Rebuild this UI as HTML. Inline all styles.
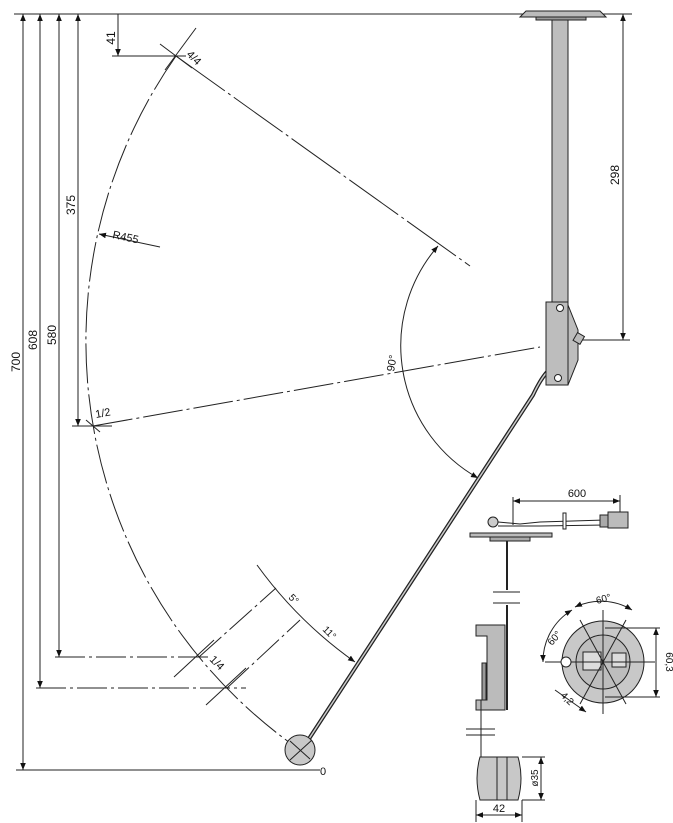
<!DOCTYPE html>
<html><head><meta charset="utf-8"><style>
html,body{margin:0;padding:0;background:#fff;}
svg{display:block;}
text{font-family:"Liberation Sans",sans-serif;fill:#111;}
</style></head><body>
<svg width="673" height="823" viewBox="0 0 673 823" xmlns="http://www.w3.org/2000/svg">
<defs>
<marker id="a" viewBox="0 0 10 10" refX="10" refY="5" markerWidth="7" markerHeight="7" orient="auto-start-reverse"><path d="M0,1 L10,5 L0,9 z" fill="#111"/></marker>
</defs>
<g stroke="#222" stroke-width="1" fill="none">
<line x1="14" y1="14" x2="632" y2="14"/>
<line x1="23" y1="14" x2="23" y2="770" marker-start="url(#a)" marker-end="url(#a)"/>
<line x1="40" y1="14" x2="40" y2="688" marker-start="url(#a)" marker-end="url(#a)"/>
<line x1="59" y1="14" x2="59" y2="657" marker-start="url(#a)" marker-end="url(#a)"/>
<line x1="78" y1="14" x2="78" y2="426" marker-start="url(#a)" marker-end="url(#a)"/>
<line x1="118" y1="14" x2="118" y2="56" marker-end="url(#a)"/>
<line x1="623" y1="14" x2="623" y2="340" marker-start="url(#a)" marker-end="url(#a)"/>
<line x1="16" y1="770" x2="320" y2="770"/>
<line x1="36" y1="688" x2="246" y2="688" stroke-dasharray="30 4 3 4"/>
<line x1="55" y1="657" x2="212" y2="657" stroke-dasharray="30 4 3 4"/>
<line x1="72" y1="426" x2="112" y2="426"/>
<line x1="112" y1="56" x2="186" y2="56"/>
<line x1="575" y1="340" x2="630" y2="340"/>
<path d="M176,56 A497,497 0 0 0 300,750" stroke-dasharray="40 4 3 4"/>
<line x1="176" y1="56" x2="470" y2="266" stroke-dasharray="60 4 3 4"/>
<line x1="93" y1="426" x2="540" y2="347" stroke-dasharray="40 4 3 4"/>
<line x1="199" y1="657" x2="276" y2="588" stroke-dasharray="30 4 3 4"/>
<line x1="227" y1="688" x2="300" y2="620" stroke-dasharray="30 4 3 4"/>
<line x1="160" y1="44" x2="192" y2="68"/><line x1="165" y1="70" x2="196" y2="28"/>
<line x1="86" y1="420" x2="100" y2="432"/>
<line x1="174" y1="677" x2="214" y2="640"/>
<line x1="206" y1="705" x2="246" y2="668"/>
<line x1="160" y1="247" x2="99" y2="234" marker-end="url(#a)"/>
<path d="M438,246 A152,152 0 0 0 478,478" marker-start="url(#a)" marker-end="url(#a)"/>
<path d="M257,565 A420,420 0 0 0 355,662" marker-end="url(#a)"/>
</g>
<path d="M547,372 Q540,380 533,395 L303,748" stroke="#222" stroke-width="4" fill="none"/>
<path d="M547,372 Q540,380 533,395 L303,748" stroke="#ccc" stroke-width="1.5" fill="none"/>
<circle cx="300" cy="750" r="15" fill="#c8c8c8" stroke="#222"/>
<line x1="290" y1="741" x2="310" y2="759" stroke="#222"/>
<line x1="290" y1="760" x2="312" y2="740" stroke="#222"/>
<path d="M520,17 L526,11 L600,11 L606,17 Z" fill="#bbb" stroke="#222"/>
<rect x="536" y="17" width="50" height="3" fill="#999" stroke="#222"/>
<rect x="552" y="20" width="16" height="285" fill="#bdbdbd" stroke="#222"/>
<path d="M568,305 L578,330 L578,360 L568,385 Z" fill="#bdbdbd" stroke="#222"/>
<rect x="546" y="302" width="22" height="83" fill="#bdbdbd" stroke="#222"/>
<circle cx="560" cy="308" r="3.5" fill="#fff" stroke="#222"/>
<circle cx="558" cy="378" r="3.5" fill="#fff" stroke="#222"/>
<rect x="575" y="334" width="8" height="9" fill="#bbb" stroke="#222" transform="rotate(30 579 338)"/>
<g stroke="#222" fill="none">
<line x1="513" y1="501" x2="620" y2="501" marker-start="url(#a)" marker-end="url(#a)"/>
<line x1="513" y1="497" x2="513" y2="525"/><line x1="620" y1="495" x2="620" y2="515"/>
<path d="M470,533 L552,533 L552,537 L470,537 Z" fill="#bbb"/>
<rect x="490" y="537" width="40" height="4" fill="#aaa"/>
<circle cx="493" cy="522" r="5" fill="#ccc"/>
<path d="M498,522 L520,524 L540,522 L605,520 M498,526 L540,526 L605,525"/>
<rect x="563" y="513" width="3" height="16" fill="#fff"/>
<rect x="600" y="515" width="8" height="12" fill="#aaa"/>
<rect x="608" y="512" width="20" height="16" fill="#bbb"/>
<line x1="507" y1="541" x2="507" y2="590" stroke-width="2"/>
<line x1="493" y1="592" x2="520" y2="592"/><line x1="493" y1="603" x2="520" y2="603"/>
<line x1="507" y1="605" x2="507" y2="710" stroke-width="2"/>
<path d="M476,625 L505,625 L505,710 L476,710 L476,700 L487,700 L487,636 L476,636 Z" fill="#bbb"/>
<path d="M482,663 L486,663 L486,700 L482,700 Z" fill="#999"/>
<line x1="481" y1="700" x2="481" y2="760"/>
<line x1="466" y1="729" x2="495" y2="729"/><line x1="466" y1="735" x2="495" y2="735"/>
<path d="M480,757 Q474,778 480,800 L518,800 Q524,778 518,757 Z" fill="#c8c8c8"/>
<line x1="497" y1="757" x2="497" y2="800"/><line x1="507" y1="757" x2="507" y2="800"/>
<line x1="522" y1="757" x2="545" y2="757"/><line x1="522" y1="800" x2="545" y2="800"/>
<line x1="541" y1="757" x2="541" y2="800" marker-start="url(#a)" marker-end="url(#a)"/>
<line x1="476" y1="800" x2="476" y2="822"/><line x1="522" y1="800" x2="522" y2="822"/>
<line x1="476" y1="815" x2="522" y2="815" marker-start="url(#a)" marker-end="url(#a)"/>
<circle cx="603" cy="662" r="41" fill="#c8c8c8"/>
<circle cx="603" cy="662" r="27" fill="#bdbdbd"/>
<rect x="583" y="652" width="18" height="18" fill="#ddd"/>
<rect x="612" y="653" width="14" height="14" fill="#ddd"/>
<line x1="603" y1="610" x2="603" y2="714"/>
<line x1="545" y1="662" x2="655" y2="662"/>
<line x1="580" y1="620" x2="626" y2="704"/>
<line x1="626" y1="620" x2="580" y2="704"/>
<circle cx="566" cy="662" r="5" fill="#fff"/>
<path d="M543,662 A60,60 0 0 1 572,610" marker-start="url(#a)" marker-end="url(#a)"/>
<path d="M575,607 A60,60 0 0 1 632,610" marker-start="url(#a)" marker-end="url(#a)"/>
<line x1="605" y1="628" x2="660" y2="628"/><line x1="605" y1="697" x2="660" y2="697"/>
<line x1="656" y1="628" x2="656" y2="697" marker-start="url(#a)" marker-end="url(#a)"/>
<line x1="555" y1="690" x2="586" y2="712" marker-end="url(#a)"/>
</g>
<g font-size="12">
<text transform="translate(20,362) rotate(-90)" text-anchor="middle">700</text>
<text transform="translate(37,340) rotate(-90)" text-anchor="middle">608</text>
<text transform="translate(56,335) rotate(-90)" text-anchor="middle">580</text>
<text transform="translate(75,205) rotate(-90)" text-anchor="middle">375</text>
<text transform="translate(115,38) rotate(-90)" text-anchor="middle">41</text>
<text transform="translate(619,175) rotate(-90)" text-anchor="middle">298</text>
<text transform="translate(186,55) rotate(45)" font-size="11">4/4</text>
<text x="112" y="238" transform="rotate(12 112 238)" font-size="11">R455</text>
<text x="96" y="418" transform="rotate(-10 96 418)" font-size="11">1/2</text>
<text transform="translate(209,660) rotate(45)" font-size="11">1/4</text>
<text x="320" y="775" font-size="11">0</text>
<text transform="translate(394,372) rotate(-80)" font-size="11">90°</text>
<text transform="translate(288,598) rotate(45)" font-size="10">5°</text>
<text transform="translate(322,630) rotate(45)" font-size="10">11°</text>
<text x="577" y="497" text-anchor="middle" font-size="11">600</text>
<text transform="translate(552,646) rotate(-50)" font-size="10">60°</text>
<text x="597" y="604" font-size="10" transform="rotate(-15 597 604)">60°</text>
<text transform="translate(666,662) rotate(90)" text-anchor="middle" font-size="10">60,3</text>
<text transform="translate(560,696) rotate(45)" font-size="10">4,2</text>
<text transform="translate(538,778) rotate(-90)" text-anchor="middle" font-size="10">ø35</text>
<text x="499" y="812" text-anchor="middle" font-size="11">42</text>
</g>
</svg>
</body></html>
